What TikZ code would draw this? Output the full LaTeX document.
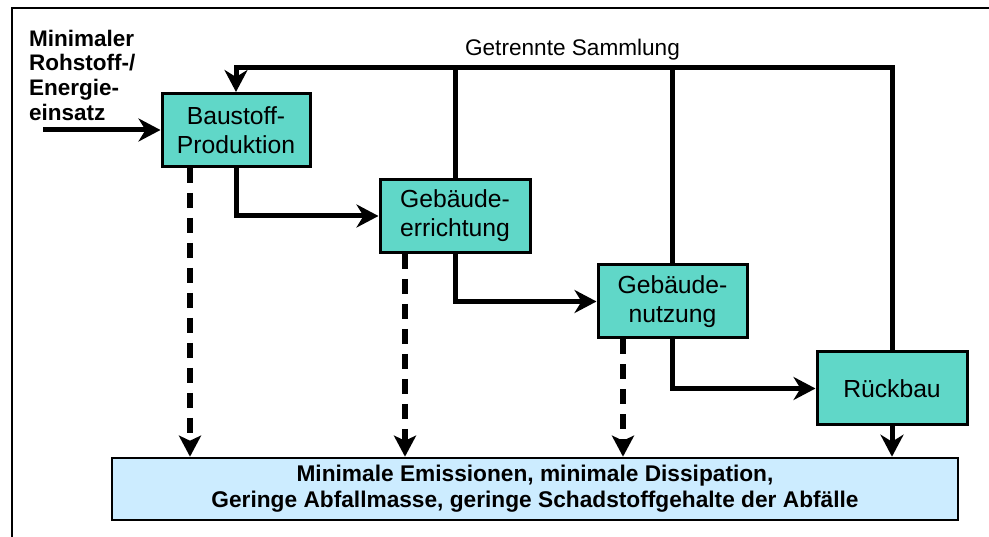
\documentclass[tikz,border=0pt]{standalone}
\usepackage{fontspec}
\setmainfont{Liberation Sans}
\usetikzlibrary{arrows.meta,calc}
\definecolor{boxteal}{RGB}{96,215,200}
\definecolor{boxblue}{RGB}{204,236,255}
\tikzset{
  stage/.style={draw=black,line width=3pt,fill=boxteal,minimum width=148pt,minimum height=73pt,align=center,inner sep=0pt,font=\fontsize{24.7}{29}\selectfont},
  flow/.style={line width=5pt,-{Stealth[length=22pt,width=23pt,inset=7pt]}},
  plain/.style={line width=5pt},
  emis/.style={line width=5.5pt,dash pattern=on 15pt off 10pt,-{Stealth[length=21pt,width=22pt,inset=5pt]}},
  lbl/.style={inner sep=0pt,align=left,font=\bfseries\fontsize{22.5}{24.8}\selectfont}
}
\begin{document}
\begin{tikzpicture}[x=1pt,y=-1pt]
\useasboundingbox (0,0) rectangle (989,537);
% frame
\draw[line width=2pt] (12,537) -- (12,8) -- (989,8);
% nodes
\node[stage] (bp) at (236,130) {Baustoff-\\Produktion};
\node[stage,minimum width=150pt] (ge) at (455,216) {Gebäude-\\errichtung};
\node[stage,minimum width=149pt] (gn) at (672.5,301.5) {Gebäude-\\nutzung};
\node[stage,minimum width=150pt] (rb) at (892,388.5) {Rückbau};
\node[draw=black,line width=2.6pt,fill=boxblue,minimum width=846pt,minimum height=62pt,align=center,inner sep=0pt,
  font=\bfseries\fontsize{22.7}{26}\selectfont] (bot) at (535,489)
  {Minimale Emissionen, minimale Dissipation,\\Geringe Abfallmasse, geringe Schadstoffgehalte der Abfälle};
\node[lbl,anchor=north west] (inp) at (29,29.5) {Minimaler\\Rohstoff-/\\Energie-\\einsatz};
\coordinate (in0) at (43,130);
\coordinate (top) at (892,68);
\node[inner sep=0pt,font=\fontsize{22.6}{26}\selectfont,anchor=base] (gs) at (572.5,56) {Getrennte Sammlung};
% input
\draw[flow] (in0) -- (bp.west);
% forward chain
\draw[flow] (bp.south) |- (ge.west);
\draw[flow] (ge.south) |- (gn.west);
\draw[flow] (gn.south) |- (rb.west);
% collection loop
\draw[flow] (rb.north) -- (top) -| (bp.north);
\draw[plain] (ge.north) -- (ge.north |- top);
\draw[plain] (gn.north) -- (gn.north |- top);
% emissions
\draw[emis] ([xshift=-46pt]bp.south) -- ([xshift=-46pt]bp.south |- bot.north);
\draw[emis] ([xshift=-50pt]ge.south) -- ([xshift=-50pt]ge.south |- bot.north);
\draw[emis] ([xshift=-49.5pt]gn.south) -- ([xshift=-49.5pt]gn.south |- bot.north);
\draw[flow] (rb.south) -- (rb.south |- bot.north);
\end{tikzpicture}
\end{document}
